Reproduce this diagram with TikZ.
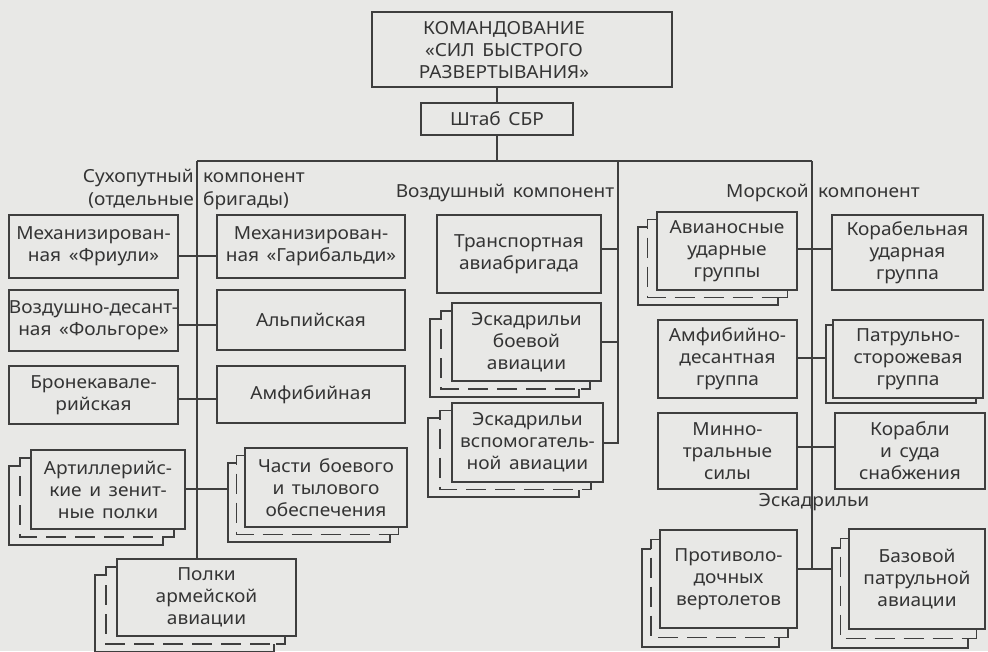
\documentclass[tikz,border=0pt]{standalone}
\usepackage{fontspec}
\setmainfont{Noto Sans}[FakeStretch=1.06]
\usetikzlibrary{calc}
\definecolor{bgc}{RGB}{232,232,230}
\definecolor{ink}{RGB}{62,62,62}
\definecolor{txt}{RGB}{52,52,52}
\newcommand\fs{\fontsize{18}{22}\selectfont\spaceskip=0.42em plus 0.1em minus 0.05em}
\tikzset{
 ln/.style={draw=ink, line width=1.2pt},
 sheet/.style={draw=ink, line width=1.4pt},
 box/.style={draw=ink, line width=1.4pt, inner sep=0pt, outer sep=0pt, align=center, text=txt, font=\fs},
 lbl/.style={inner sep=0pt, text=txt, font=\fs},
 dsh/.style={sheet, dash pattern=on 20pt off 9pt, dash phase=20pt},
}
\newcommand\bx[6]{\node[box, minimum width={(#4-#2)*1pt}, minimum height={(#5-#3)*1pt}] (#1) at ({(#2+#4)/2},{(#3+#5)/2}) {#6};}
\newcommand\stk[3]{%
 \draw[sheet] let \p1=(#1.north west), \p2=(#1.south east) in
  (\x1-#2pt,\y1-2*#3pt) -- (\x1-2*#2pt,\y1-2*#3pt) -- (\x1-2*#2pt,\y2-2*#3pt) -- (\x2-2*#2pt,\y2-2*#3pt) -- (\x2-2*#2pt,\y2-#3pt)
  (\x1,\y1-#3pt) -- (\x1-#2pt,\y1-#3pt) -- (\x1-#2pt,\y1-#3pt-9pt)
  (\x2-#2pt-9pt,\y2-#3pt) -- (\x2-#2pt,\y2-#3pt) -- (\x2-#2pt,\y2);
 \draw[dsh] let \p1=(#1.north west), \p2=(#1.south east) in
  (\x1-#2pt,\y1-#3pt-9pt) -- (\x1-#2pt,\y2-#3pt) -- (\x2-#2pt-9pt,\y2-#3pt);
}
\newcommand\stktwo[3]{%
 \draw[sheet] let \p1=(#1.north west), \p2=(#1.south east) in
  (\x1,\y1-#3pt) -- (\x1-#2pt,\y1-#3pt) -- (\x1-#2pt,\y2-#3pt) -- (\x2-#2pt,\y2-#3pt) -- (\x2-#2pt,\y2);
}
\begin{document}
\begin{tikzpicture}[x=1pt,y=-1pt]
\useasboundingbox (0,0) rectangle (988,651);
\fill[bgc] (0,0) rectangle (988,651);

% command
\bx{cmd}{372}{12}{672}{87}{}
\node[lbl, align=center] (cmdt) at (504,50) {КОМАНДОВАНИЕ\\«СИЛ БЫСТРОГО\\РАЗВЕРТЫВАНИЯ»};
\bx{sht}{421}{103}{573}{135}{Штаб СБР}

% land
\bx{fri}{9}{215}{178}{278}{Механизирован-\\ная «Фриули»}
\bx{gar}{217}{215}{405}{278}{Механизирован-\\ная «Гарибальди»}
\bx{fol}{9}{290}{178}{351}{Воздушно-десант-\\ная «Фольгоре»}
\bx{alp}{217}{290}{405}{350}{Альпийская}
\bx{bro}{9}{366}{178}{424}{Бронекавале-\\рийская}
\bx{amf}{217}{366}{405}{423}{Амфибийная}
\bx{art}{31}{450}{185}{529}{Артиллерийс-\\кие и зенит-\\ные полки}
\bx{chb}{245}{448}{407}{527}{Части боевого\\и тылового\\обеспечения}
\bx{pol}{117}{559}{296}{636}{Полки\\армейской\\авиации}

% air
\bx{trn}{437}{215}{601}{293}{Транспортная\\авиабригада}
\bx{boy}{452}{303}{601}{381}{Эскадрильи\\боевой\\авиации}
\bx{vsp}{452}{403}{603}{482}{Эскадрильи\\вспомогатель-\\ной авиации}

% naval
\bx{avi}{657}{212}{797}{290}{Авианосные\\ударные\\группы}
\bx{kor}{832}{215}{983}{290}{Корабельная\\ударная\\группа}
\bx{amd}{658}{320}{797}{398}{Амфибийно-\\десантная\\группа}
\bx{pat}{833}{320}{983}{398}{Патрульно-\\сторожевая\\группа}
\bx{min}{658}{413}{797}{489}{Минно-\\тральные\\силы}
\bx{sna}{835}{413}{985}{489}{Корабли\\и суда\\снабжения}
\bx{prt}{660}{530}{797}{628}{Противоло-\\дочных\\вертолетов}
\bx{baz}{849}{529}{985}{629}{Базовой\\патрульной\\авиации}

% stacks
\stk{art}{11}{8}
\stk{chb}{8.5}{7.5}
\stk{pol}{11}{8}
\stk{boy}{11}{8}
\stk{vsp}{12}{7.5}
\stk{avi}{9.5}{7.5}
\stk{prt}{9}{9.5}
\stk{baz}{8.5}{9.5}
\stktwo{pat}{7}{5}

% labels
\node[lbl, anchor=base east] (l1a) at (194,182) {Сухопутный};
\node[lbl, anchor=base west] (l1b) at (203,182) {компонент};
\node[lbl, anchor=base east] (l2a) at (194,205) {(отдельные};
\node[lbl, anchor=base west] (l2b) at (203,205) {бригады)};
\node[lbl, anchor=base] (air) at (505,197) {Воздушный компонент};
\node[lbl, anchor=base east] (n1a) at (809,197) {Морской};
\node[lbl, anchor=base west] (n1b) at (818,197) {компонент};
\node[lbl, anchor=base] (esk) at (814,506) {Эскадрильи};

% trunk
\coordinate (busL) at (197,161);
\coordinate (busA) at (618,161);
\coordinate (busN) at (812,161);
\draw[ln] (sht.north |- cmd.south) -- (sht.north);
\draw[ln] (sht.south) -- (sht.south |- busL);
\draw[ln] (busL) -- (busN);

% land connectors
\draw[ln] (busL) -- (busL |- pol.north);
\draw[ln] (fri.east |- 0,256) -- (gar.west |- 0,256);
\draw[ln] (fol.east |- 0,325) -- (alp.west |- 0,325);
\draw[ln] (bro.east |- 0,399) -- (amf.west |- 0,399);
\draw[ln] (art.east |- 0,489) -- ([xshift=-17pt]chb.west |- 0,489);

% air connectors
\draw[ln] (busA) -- (busA |- 0,443) -- (vsp.east |- 0,443);
\draw[ln] (trn.east |- 0,249) -- (busA |- 0,249);
\draw[ln] (boy.east |- 0,342) -- (busA |- 0,342);

% naval connectors
\draw[ln] (busN) -- (busN |- 0,569);
\draw[ln] (avi.east |- 0,249) -- (kor.west |- 0,249);
\draw[ln] (amd.east |- 0,358) -- ([xshift=-7pt]pat.west |- 0,358);
\draw[ln] (min.east |- 0,447) -- (sna.west |- 0,447);
\draw[ln] (prt.east |- 0,569) -- ([xshift=-17pt]baz.west |- 0,569);
\end{tikzpicture}
\end{document}
